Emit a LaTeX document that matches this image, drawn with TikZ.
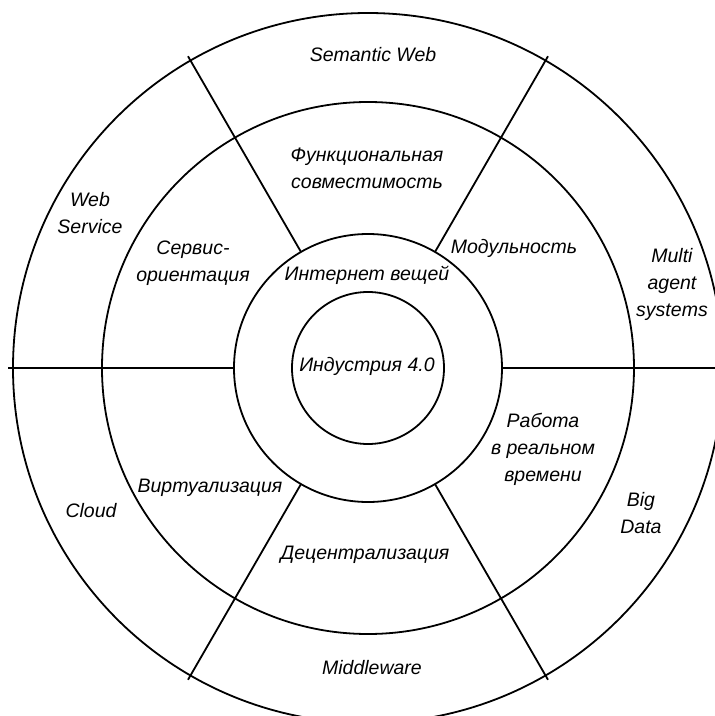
\documentclass[tikz,border=0pt]{standalone}
\usepackage{fontspec}
\setmainfont{Liberation Sans}
\begin{document}
\begin{tikzpicture}[x=1pt,y=1pt,
  ring/.style={line width=1.8pt},
  spoke/.style={line width=1.8pt},
  lbl/.style={font=\fontsize{19.5}{27}\selectfont\itshape, align=center, inner sep=0pt}]
\useasboundingbox (-368,-348) rectangle (347,368);
\clip (-368,-348) rectangle (347,368);
\coordinate (c) at (0,0);
% circles
\draw[ring] (c) circle (76);
\draw[ring] (c) circle (134);
\draw[ring] (c) circle (266);
\draw[ring] (c) circle (355);
% spokes
\foreach \a/\n in {60/a,120/b,240/d,300/e,0/f,180/g}{
  \coordinate (s\n) at (\a:134);
  \coordinate (t\n) at (\a:360);
}
\coordinate (tf) at (360,0);
\draw[spoke] (sa) -- (ta);
\draw[spoke] (sb) -- (tb);
\draw[spoke] (sd) -- (td);
\draw[spoke] (se) -- (te);
\draw[spoke] (sf) -- (tf);
\draw[spoke] (sg) -- (tg);
% labels
\node[lbl] (semweb) at (5,313) {Semantic Web};
\node[lbl] (func) at (-1,199.5) {Функциональная\\совместимость};
\node[lbl] (websrv) at (-278,155) {Web\\Service};
\node[lbl] (serv) at (-175,104.5) {Сервис-\\ориентация};
\node[lbl] (mod) at (146,120) {Модульность};
\node[lbl] (iot) at (-1,93) {Интернет вещей};
\node[lbl] (mas) at (304,84) {Multi\\agent\\systems};
\node[lbl] (ind) at (-1,2) {Индустрия 4.0};
\node[lbl] (rt) at (175,-81) {Работа\\в реальном\\времени};
\node[lbl] (bd) at (273,-145) {Big\\Data};
\node[lbl] (cloud) at (-277,-143) {Cloud};
\node[lbl] (virt) at (-158,-120) {Виртуализация};
\node[lbl] (dec) at (-3,-187) {Децентрализация};
\node[lbl] (mw) at (4,-300) {Middleware};
\end{tikzpicture}
\end{document}
